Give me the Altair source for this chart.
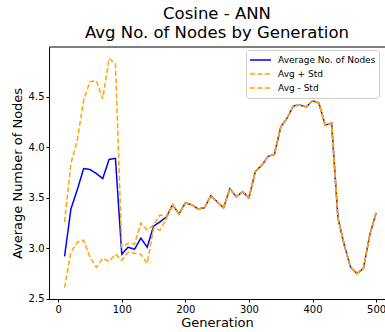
import altair as alt
import pandas as pd

generations = list(range(10, 501, 10))
avg_nodes = [2.92, 3.39, 3.58, 3.79, 3.78, 3.74, 3.69, 3.88, 3.89, 2.94,
             3.01, 2.99, 3.10, 3.01, 3.22, 3.26, 3.31, 3.43, 3.34, 3.45,
             3.43, 3.39, 3.40, 3.52, 3.46, 3.40, 3.59, 3.51, 3.56, 3.50,
             3.76, 3.82, 3.91, 3.93, 4.20, 4.29, 4.41, 4.42, 4.40, 4.46,
             4.44, 4.22, 4.24, 3.30, 3.03, 2.81, 2.75, 2.80, 3.13, 3.35]
avg_plus_std = [3.26, 3.84, 4.07, 4.47, 4.65, 4.66, 4.48, 4.88, 4.83, 3.01,
                3.05, 3.04, 3.25, 3.18, 3.23, 3.33, 3.31, 3.43, 3.34, 3.45,
                3.43, 3.39, 3.40, 3.52, 3.46, 3.40, 3.59, 3.51, 3.56, 3.50,
                3.76, 3.82, 3.91, 3.93, 4.20, 4.29, 4.41, 4.42, 4.40, 4.46,
                4.44, 4.22, 4.24, 3.30, 3.03, 2.81, 2.75, 2.80, 3.13, 3.35]
avg_minus_std = [2.61, 2.96, 3.06, 3.08, 2.91, 2.81, 2.90, 2.87, 2.94, 2.88,
                 2.96, 2.95, 2.94, 2.85, 3.20, 3.18, 3.29, 3.43, 3.34, 3.45,
                 3.43, 3.39, 3.40, 3.52, 3.46, 3.40, 3.59, 3.51, 3.56, 3.50,
                 3.76, 3.82, 3.91, 3.93, 4.20, 4.29, 4.41, 4.42, 4.40, 4.46,
                 4.44, 4.22, 4.24, 3.30, 3.03, 2.81, 2.75, 2.80, 3.13, 3.35]
series_names = ["Average No. of Nodes", "Avg + Std", "Avg - Std"]
series_colors = ["#0000ff", "#ffa500", "#ffa500"]
x_ticks = [0, 100, 200, 300, 400, 500]
y_ticks = [2.5, 3.0, 3.5, 4.0, 4.5]

rows = []
for name, vals in zip(series_names, [avg_nodes, avg_plus_std, avg_minus_std]):
    for g, v in zip(generations, vals):
        rows.append({"Generation": g, "value": v, "series": name})
df = pd.DataFrame(rows)

W, H = 336, 252
FONT = "DejaVu Sans"

lines = alt.Chart(df).mark_line(strokeWidth=1.5).encode(
    x=alt.X("Generation:Q", scale=alt.Scale(domain=[-14.5, 514], nice=False, zero=False),
            axis=alt.Axis(values=x_ticks, title="Generation", grid=False)),
    y=alt.Y("value:Q", scale=alt.Scale(domain=[2.497, 4.994], nice=False, zero=False),
            axis=alt.Axis(values=y_ticks, format=".1f", title="Average Number of Nodes", grid=False)),
    color=alt.Color("series:N", scale=alt.Scale(domain=series_names, range=series_colors),
                    legend=alt.Legend(title=None, orient="none", legendX=197, legendY=3)),
    strokeDash=alt.StrokeDash("series:N",
                              scale=alt.Scale(domain=series_names, range=[[1, 0], [5, 2.5], [5, 2.5]]),
                              legend=alt.Legend(title=None, orient="none", legendX=197, legendY=3)),
    order=alt.Order("Generation:Q"),
)

top_spine = alt.Chart(pd.DataFrame({"a": [0]})).mark_rule(color="black", strokeWidth=1).encode(
    x=alt.value(0), x2=alt.value(W), y=alt.value(0)
)

chart = alt.layer(lines, top_spine).properties(
    width=W, height=H,
    autosize=alt.AutoSizeParams(type="none"),
    padding={"left": 49, "top": 47, "right": 0, "bottom": 33},
    title=alt.TitleParams(["Cosine - ANN", "Avg No. of Nodes by Generation"],
                          fontSize=16.5, font=FONT, fontWeight="normal", anchor="middle",
                          color="black", lineHeight=19, offset=5),
).configure_view(stroke=None).configure_axis(
    labelFont=FONT, titleFont=FONT, labelFontSize=10, titleFontSize=13,
    titleFontWeight="normal", labelColor="black", titleColor="black",
    domainColor="black", tickColor="black", tickSize=3, labelPadding=2,
    domainWidth=1, tickWidth=1,
).configure_axisX(titlePadding=2).configure_axisY(titlePadding=4).configure_legend(
    labelFont=FONT, labelFontSize=9, labelColor="black", symbolType="stroke",
    symbolSize=441, symbolStrokeWidth=1.5, clipHeight=14, rowPadding=0,
    padding=3, fillColor="white", strokeColor="#cccccc", cornerRadius=3,
    labelOffset=6, labelLimit=200,
)

chart.save("out.html", embed_options={"renderer": "svg", "actions": False})
